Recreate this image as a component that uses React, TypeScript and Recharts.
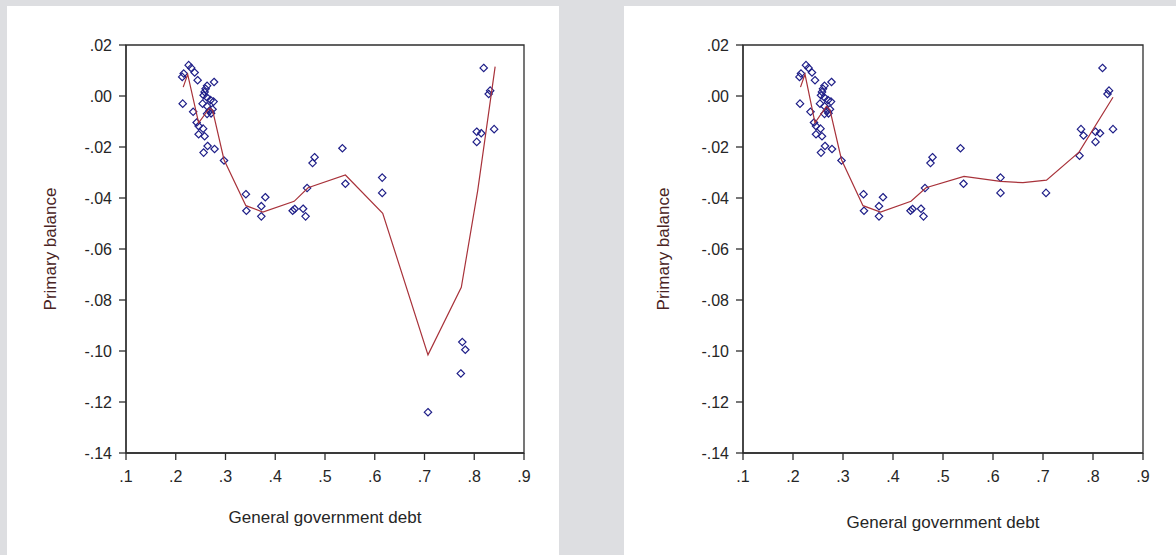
import React from 'react';
import { ComposedChart, Scatter, XAxis, YAxis, ReferenceArea } from 'recharts';

// Observations shared by both panels: general government debt (x) and primary balance (y)
const debt = [
  0.214, 0.213, 0.216, 0.226, 0.231, 0.238, 0.244, 0.235, 0.242, 0.246,
  0.255, 0.246, 0.258, 0.264, 0.256, 0.278, 0.297, 0.277, 0.263, 0.258,
  0.256, 0.263, 0.270, 0.276, 0.254, 0.263, 0.268, 0.263, 0.271, 0.274,
  0.260, 0.341, 0.342, 0.372, 0.372, 0.380, 0.435, 0.439, 0.456, 0.461,
  0.464, 0.475, 0.479, 0.535, 0.541, 0.615, 0.615, 0.805, 0.805, 0.814,
  0.819, 0.829, 0.832, 0.840,
];
const balance = [
  -0.003, 0.0075, 0.0088, 0.0121, 0.011, 0.0092, 0.0062, -0.0062, -0.0104, -0.0118,
  -0.0128, -0.015, -0.0158, -0.0196, -0.0222, -0.0208, -0.0253, 0.0055, 0.004, 0.0016,
  0.0003, -0.0006, -0.0016, -0.0022, -0.003, -0.004, -0.0058, -0.007, -0.0068, -0.0052,
  0.0028, -0.0385, -0.045, -0.0432, -0.0472, -0.0397, -0.045, -0.0443, -0.0442, -0.0472,
  -0.0361, -0.0263, -0.024, -0.0205, -0.0344, -0.032, -0.038, -0.014, -0.018, -0.0146,
  0.011, 0.0008, 0.0021, -0.013,
];

// Observations that differ between the two samples
const debtLeftOnly = [0.707, 0.776, 0.782, 0.773];
const balanceLeftOnly = [-0.124, -0.0965, -0.0995, -0.1088];
const debtRightOnly = [0.706, 0.773, 0.776, 0.781];
const balanceRightOnly = [-0.038, -0.0234, -0.013, -0.0155];

// Nonparametric fit lines
const fitDebtLeft = [0.215, 0.224, 0.246, 0.268, 0.274, 0.297, 0.341, 0.375, 0.438, 0.466, 0.541, 0.616, 0.707, 0.774, 0.807, 0.842];
const fitBalanceLeft = [0.0035, 0.0085, -0.0105, -0.0047, -0.0055, -0.025, -0.043, -0.0455, -0.0413, -0.036, -0.031, -0.046, -0.1015, -0.075, -0.037, 0.0115];
const fitDebtRight = [0.215, 0.224, 0.244, 0.267, 0.274, 0.297, 0.34, 0.375, 0.436, 0.466, 0.542, 0.615, 0.66, 0.707, 0.772, 0.84];
const fitBalanceRight = [0.0035, 0.0085, -0.0105, -0.004, -0.0055, -0.025, -0.043, -0.0455, -0.0413, -0.036, -0.0315, -0.0335, -0.034, -0.033, -0.022, -0.0005];

// Axis ticks
const xTicks = [0.1, 0.2, 0.3, 0.4, 0.5, 0.6, 0.7, 0.8, 0.9];
const yTicks = [0.02, 0, -0.02, -0.04, -0.06, -0.08, -0.1, -0.12, -0.14];

const toPoints = (xs: number[], ys: number[]) => xs.map((x, i) => ({ x, y: ys[i] }));

const fmtX = (v: number) => v.toFixed(1).replace(/^0/, '');
const fmtY = (v: number) => {
  const s = Math.abs(v).toFixed(2).replace(/^0/, '');
  return v < -1e-9 ? '-' + s : s;
};

const MARKER = '#1f1f88';
const FIT = '#a8323a';
const AXIS = '#2e2e2e';
const TEXT = '#262626';
const FONT = '"Liberation Sans", Arial, sans-serif';

const Diamond = (props: any) => {
  const { cx, cy } = props;
  if (cx == null || cy == null) return <g />;
  const r = 3.7;
  return (
    <path
      d={`M${cx},${cy - r}L${cx + r},${cy}L${cx},${cy + r}L${cx - r},${cy}Z`}
      fill="none"
      stroke={MARKER}
      strokeWidth={1.2}
    />
  );
};

const Empty = () => <g />;

type PanelProps = {
  points: { x: number; y: number }[];
  fit: { x: number; y: number }[];
  width: number;
  marginLeft: number;
  marginRight: number;
  titleOffset: number;
  yTitleDx: number;
};

const Panel = ({ points, fit, width, marginLeft, marginRight, titleOffset, yTitleDx }: PanelProps) => (
  <ComposedChart
    width={width}
    height={555}
    margin={{ top: 45, right: marginRight, left: marginLeft, bottom: 32 }}
    style={{ fontFamily: FONT }}
  >
    <XAxis
      type="number"
      dataKey="x"
      domain={[0.1, 0.9]}
      ticks={xTicks}
      tickFormatter={fmtX}
      allowDataOverflow
      height={70}
      tickSize={7}
      tickMargin={11}
      stroke={AXIS}
      strokeWidth={1.3}
      tick={{ fill: TEXT, fontSize: 16 }}
      label={{ value: 'General government debt', position: 'insideBottom', offset: titleOffset, fill: TEXT, fontSize: 17 }}
    />
    <YAxis
      type="number"
      dataKey="y"
      domain={[-0.14, 0.02]}
      ticks={yTicks}
      tickFormatter={fmtY}
      allowDataOverflow
      width={60}
      tickSize={7}
      tickMargin={7}
      stroke={AXIS}
      strokeWidth={1.3}
      tick={{ fill: TEXT, fontSize: 16 }}
      label={{ value: 'Primary balance', angle: -90, position: 'center', dx: yTitleDx, fill: '#4a2424', fontSize: 17 }}
    />
    <ReferenceArea x1={0.1} x2={0.9} y1={-0.14} y2={0.02} fill="none" stroke={AXIS} strokeWidth={1.3} />
    <Scatter data={points} shape={Diamond} isAnimationActive={false} />
    <Scatter
      data={fit}
      shape={Empty}
      line={{ stroke: FIT, strokeWidth: 1.2 }}
      lineType="joint"
      isAnimationActive={false}
    />
  </ComposedChart>
);

export default function App() {
  const leftPoints = [...toPoints(debt, balance), ...toPoints(debtLeftOnly, balanceLeftOnly)];
  const rightPoints = [...toPoints(debt, balance), ...toPoints(debtRightOnly, balanceRightOnly)];
  const leftFit = toPoints(fitDebtLeft, fitBalanceLeft);
  const rightFit = toPoints(fitDebtRight, fitBalanceRight);

  return (
    <div style={{ position: 'absolute', left: 0, top: 0, width: 1176, height: 555, background: '#dddee1', overflow: 'hidden' }}>
      <div style={{ position: 'absolute', left: 7, top: 6, width: 552, height: 549, background: '#fff' }} />
      <div style={{ position: 'absolute', left: 624, top: 6, width: 552, height: 549, background: '#fff' }} />
      <div style={{ position: 'absolute', left: 0, top: 0 }}>
        <Panel points={leftPoints} fit={leftFit} width={560} marginLeft={66} marginRight={36} titleOffset={0} yTitleDx={-46} />
      </div>
      <div style={{ position: 'absolute', left: 600, top: 0 }}>
        <Panel points={rightPoints} fit={rightFit} width={576} marginLeft={83} marginRight={33} titleOffset={-5} yTitleDx={-50} />
      </div>
    </div>
  );
}
